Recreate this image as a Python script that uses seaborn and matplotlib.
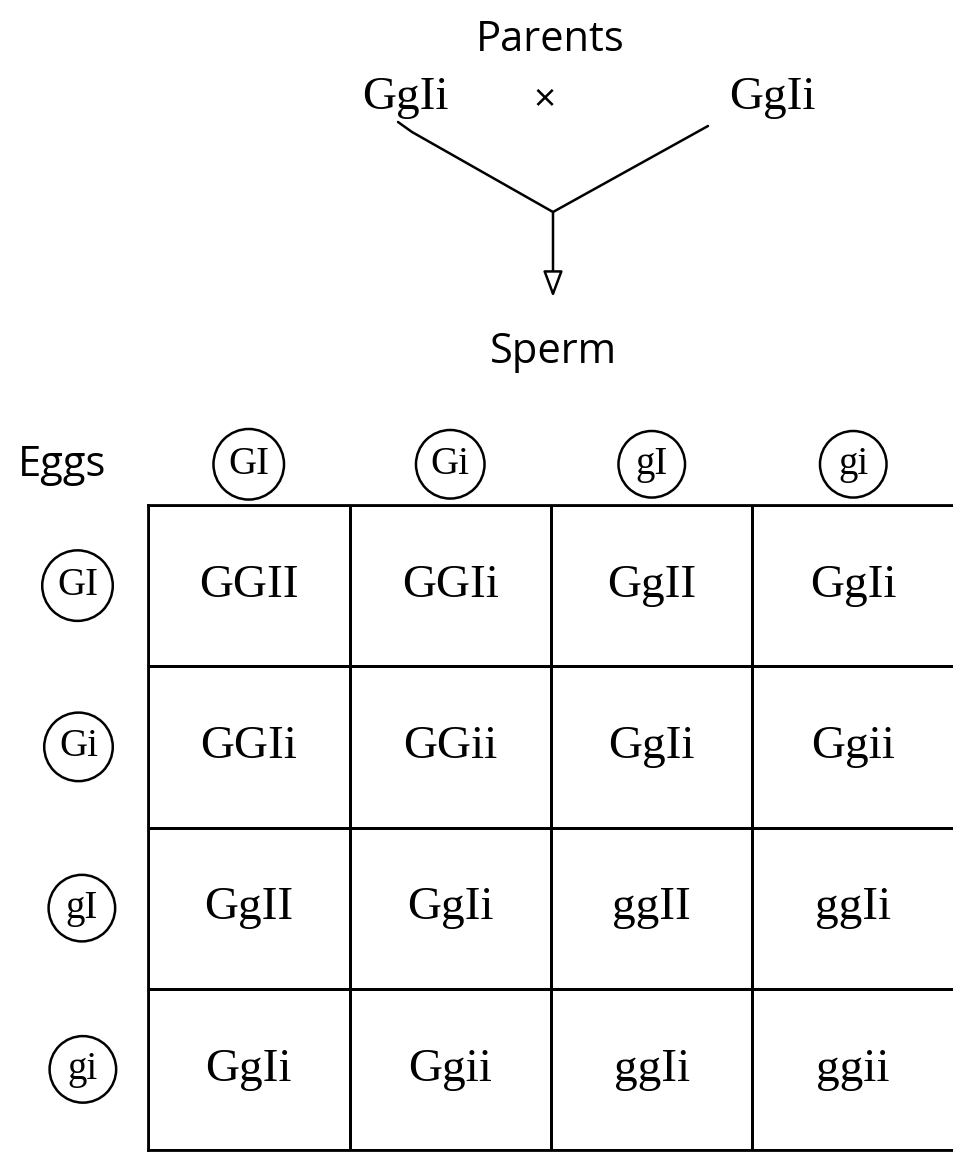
import numpy as np
import matplotlib
matplotlib.use("Agg")
import matplotlib.pyplot as plt
from matplotlib.colors import ListedColormap
import seaborn as sns

# gametes and offspring genotypes
sperm = ["GI", "Gi", "gI", "gi"]
eggs = ["GI", "Gi", "gI", "gi"]
offspring = [
    ["GGII", "GGIi", "GgII", "GgIi"],
    ["GGIi", "GGii", "GgIi", "Ggii"],
    ["GgII", "GgIi", "ggII", "ggIi"],
    ["GgIi", "Ggii", "ggIi", "ggii"],
]
parent_1 = "GgIi"
parent_2 = "GgIi"

sns.set_style("white")
plt.rcParams["font.family"] = ["Open Sans", "DejaVu Sans"]
plt.rcParams["text.color"] = "black"
gene_font = ["Liberation Serif", "DejaVu Serif"]

W, H = 954, 1158
fig = plt.figure(figsize=(W / 100, H / 100), dpi=100)
fig.patch.set_facecolor("white")

# the square itself
ax = fig.add_axes([148 / W, 1 - 1150 / H, 806 / W, 645 / H])
sns.heatmap(np.zeros((4, 4)), ax=ax, cmap=ListedColormap(["white"]), cbar=False,
            annot=np.array(offspring), fmt="",
            annot_kws={"fontsize": 34, "color": "black", "family": gene_font},
            linewidths=2, linecolor="black", xticklabels=sperm, yticklabels=eggs)
for s in ax.spines.values():
    s.set_visible(True)
    s.set_linewidth(2)
    s.set_color("black")
ax.xaxis.tick_top()
ax.tick_params(axis="both", length=0, labelsize=28, labelcolor="black")
ax.tick_params(axis="x", pad=16)
ax.tick_params(axis="y", pad=36)
for lab in ax.get_xticklabels() + ax.get_yticklabels():
    lab.set_rotation(0)
    lab.set_family(gene_font)
    lab.set_bbox(dict(boxstyle="circle,pad=0.38", fc="white", ec="black", lw=1.8))

# drawing layer in pixel coordinates
over = fig.add_axes([0, 0, 1, 1])
over.set_xlim(0, W)
over.set_ylim(H, 0)
over.axis("off")
over.patch.set_alpha(0)

over.text(550, 40, "Parents", fontsize=30, ha="center", va="center")
over.text(405, 98, parent_1, fontsize=34, ha="center", va="center", family=gene_font)
over.text(545, 100, "×", fontsize=28, ha="center", va="center")
over.text(772, 98, parent_2, fontsize=34, ha="center", va="center", family=gene_font)
over.plot([398, 412, 553], [122, 132, 212], color="black", lw=1.8)
over.plot([708, 553], [126, 212], color="black", lw=1.8)
over.annotate("", xy=(553, 300), xytext=(553, 210),
              arrowprops=dict(arrowstyle="-|>,head_length=1.6,head_width=0.6",
                              fc="white", ec="black", lw=1.8))
over.text(553, 352, "Sperm", fontsize=30, ha="center", va="center")
over.text(62, 465, "Eggs", fontsize=30, ha="center", va="center")

fig.savefig("out.png", dpi=100)
